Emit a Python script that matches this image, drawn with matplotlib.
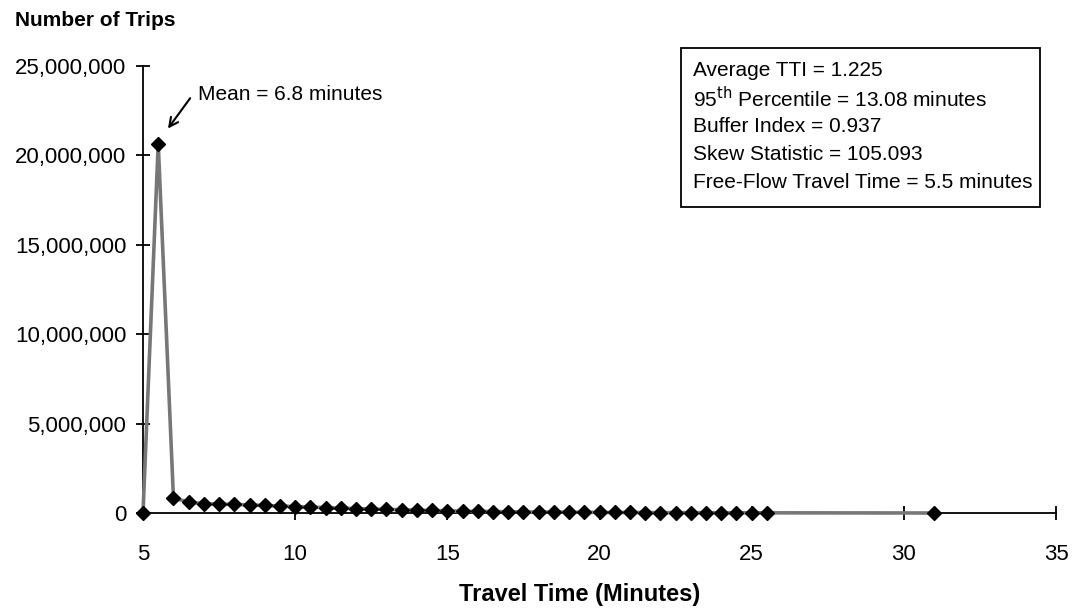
import matplotlib.pyplot as plt
from matplotlib.patches import Rectangle
from matplotlib.ticker import FuncFormatter

plt.rcParams['font.family'] = ['Liberation Sans', 'DejaVu Sans']

# travel time bins (minutes) and trip counts
travel_time = [5.0, 5.5, 6.0, 6.5, 7.0, 7.5, 8.0, 8.5, 9.0, 9.5, 10.0, 10.5,
               11.0, 11.5, 12.0, 12.5, 13.0, 13.5, 14.0, 14.5, 15.0, 15.5,
               16.0, 16.5, 17.0, 17.5, 18.0, 18.5, 19.0, 19.5, 20.0, 20.5,
               21.0, 21.5, 22.0, 22.5, 23.0, 23.5, 24.0, 24.5, 25.0, 25.5, 31.0]
trips = [0, 20650000, 850000, 600000, 520000, 500000, 480000, 450000, 420000,
         390000, 360000, 330000, 300000, 270000, 250000, 220000, 200000,
         180000, 160000, 140000, 120000, 100000, 90000, 80000, 70000, 60000,
         55000, 50000, 45000, 40000, 35000, 32000, 29000, 26000, 23000,
         20000, 18000, 16000, 14000, 12000, 11000, 10000, 0]

x_ticks = [5, 10, 15, 20, 25, 30, 35]
y_ticks = [0, 5000000, 10000000, 15000000, 20000000, 25000000]

stats_lines = ["Average TTI = 1.225",
               "95$^{\\mathrm{th}}$ Percentile = 13.08 minutes",
               "Buffer Index = 0.937",
               "Skew Statistic = 105.093",
               "Free-Flow Travel Time = 5.5 minutes"]

W, H = 1078, 613
fig = plt.figure(figsize=(W / 100, H / 100), dpi=100)
ax = fig.add_axes([143 / W, 1 - 513 / H, (1056 - 143) / W, (513 - 66) / H])

ax.plot(travel_time, trips, color='#777777', lw=2.6, marker='D', ms=7.6,
        mfc='black', mec='black', clip_on=False, zorder=3)

ax.set_xlim(5, 35)
ax.set_ylim(0, 25000000)
ax.set_xticks(x_ticks)
ax.set_yticks(y_ticks)
ax.yaxis.set_major_formatter(FuncFormatter(lambda v, p: f"{int(v):,}"))

for s in ['top', 'right']:
    ax.spines[s].set_visible(False)
for s in ['left', 'bottom']:
    ax.spines[s].set_linewidth(1.3)
ax.tick_params(axis='both', direction='inout', length=10, width=1.3, labelsize=16)
ax.tick_params(axis='x', pad=17)
ax.tick_params(axis='y', pad=7)

fig.text(15 / W, 1 - 20 / H, "Number of Trips", fontsize=15, fontweight='bold',
         va='center', ha='left')
fig.text(580 / W, 1 - 594 / H, "Travel Time (Minutes)", fontsize=17,
         fontweight='bold', va='center', ha='center')

# mean annotation
ax.text(6.8, 23400000, "Mean = 6.8 minutes", fontsize=15, va='center', ha='left')
ax.annotate("", xy=(5.82, 21500000), xytext=(6.55, 23200000),
            arrowprops=dict(arrowstyle='->', color='black', lw=1.5,
                            shrinkA=0, shrinkB=0, mutation_scale=16))

# statistics box
fig.patches.append(Rectangle((681 / W, 1 - 207 / H), (1040 - 681) / W, (207 - 48) / H,
                             transform=fig.transFigure, fc='white', ec='black',
                             lw=1.3, zorder=1))
line_y = [70, 99, 127, 155, 183]
for txt, yy in zip(stats_lines, line_y):
    fig.text(693 / W, 1 - yy / H, txt, fontsize=15, va='center', ha='left', zorder=2)

fig.savefig("out.png", dpi=100)
